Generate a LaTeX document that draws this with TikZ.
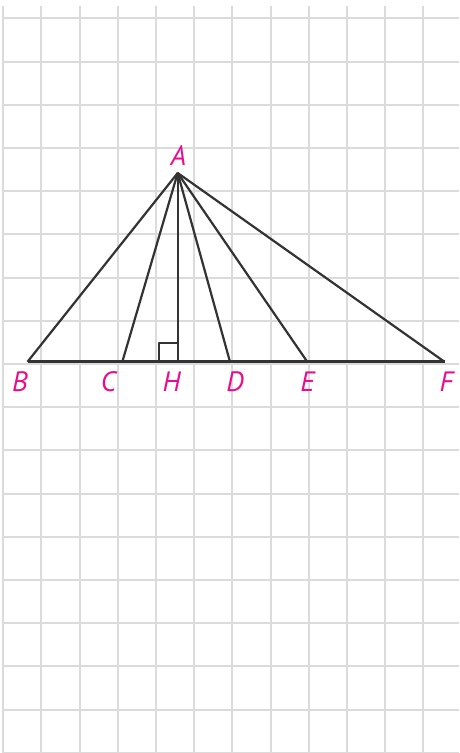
\documentclass[tikz,border=0pt]{standalone}
\usepackage{fontspec}
\usepackage{tikz}
\usetikzlibrary{calc}
\newfontfamily\ptlabel{PT Sans}
\definecolor{gridgray}{rgb}{0.86,0.86,0.86}
\definecolor{segdark}{rgb}{0.2,0.2,0.2}
\definecolor{vertexpink}{rgb}{0.91,0.05,0.55}
\tikzset{
  rejilla/.style={
    gridgray,
    line width=2pt
  },
  lado/.style={
    segdark,
    line width=2.2pt,
    line join=round
  },
  base/.style={
    segdark,
    line width=3pt
  },
  vertice/.style={
    vertexpink,
    inner sep=0pt,
    font=\ptlabel\itshape\fontsize{28}{30}\selectfont
  }
}
\begin{document}
\begin{tikzpicture}[x=1pt,y=-1pt]
\useasboundingbox (0,0) rectangle (459,753);
% cuadricula
\foreach \i in {0,...,11}
  \draw[rejilla] ({3.3+38.18*\i},6) -- ({3.3+38.18*\i},753);
\foreach \k in {0,...,17}
  \draw[rejilla] (3,{18.3+43.2*\k}) -- (459,{18.3+43.2*\k});
% puntos
\coordinate (A) at (177.7,173);
\coordinate (B) at (27.5,361.8);
\coordinate (C) at (122.3,361.8);
\coordinate (H) at (177.7,361.8);
\coordinate (D) at (230,361.8);
\coordinate (E) at (307.3,361.8);
\coordinate (F) at (444.5,361.8);
\draw[base] (B) -- (F);
\draw[lado] (B) -- (A) -- (F);
\draw[lado] (A) -- (C);
\draw[lado] (A) -- (D);
\draw[lado] (A) -- (E);
\draw[lado,line width=1.6pt] (A) -- (H);
\draw[lado,line width=2pt] ($(H)+(-19,0)$) |- ($(H)+(0,-19)$);
% etiquetas
\node[vertice] (lA) at (178.5,156) {A};
\node[vertice] (lB) at (20,382) {B};
\node[vertice] (lC) at (108.5,382) {C};
\node[vertice] (lH) at (171.5,382) {H};
\node[vertice] (lD) at (235,382) {D};
\node[vertice] (lE) at (307.5,382) {E};
\node[vertice] (lF) at (446.5,382) {F};
\end{tikzpicture}
\end{document}
